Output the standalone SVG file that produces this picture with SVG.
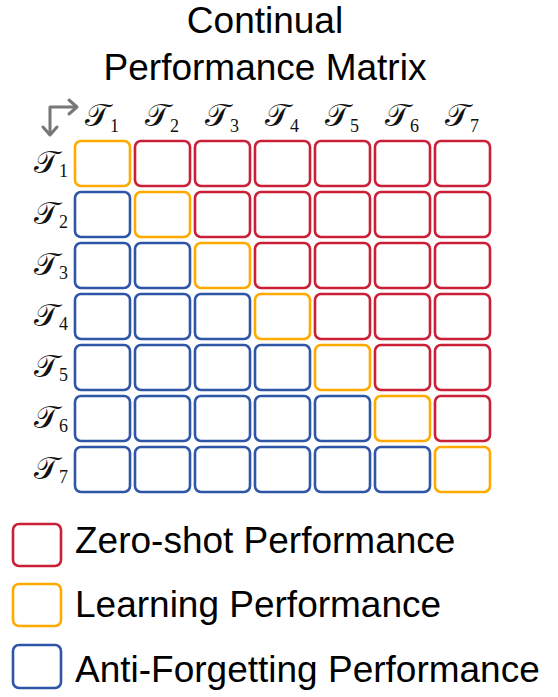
<svg xmlns="http://www.w3.org/2000/svg" width="558" height="697" viewBox="0 0 558 697">
<style>
.t{font-family:"Liberation Sans",Arial,sans-serif;font-size:37px;fill:#000}
.m{font-family:"DejaVu Serif","Liberation Serif",serif;font-size:32px;fill:#111}
.s{font-size:18px;font-family:"Liberation Serif",serif;font-style:normal}
.c{fill:#fff;stroke-width:2.6}
.r{stroke:#C91F37}.o{stroke:#FFAA00}.b{stroke:#2F56A6}
</style>
<rect width="558" height="697" fill="#fff"/>
<g id="title"><text class="t" x="265" y="33" text-anchor="middle">Continual</text><text class="t" x="265" y="80" text-anchor="middle">Performance Matrix</text></g>
<g id="corner-arrow" fill="none" stroke="#777" stroke-width="3" stroke-linecap="round" stroke-linejoin="round">
<path d="M50 134 V107 H76"/><path d="M69 100 L77 107 L69 114"/><path d="M43 127 L50 135 L57 127"/>
</g>
<g id="col-labels">
<text class="m" x="85" y="126">𝒯<tspan class="s" dy="6">1</tspan></text>
<text class="m" x="145" y="126">𝒯<tspan class="s" dy="6">2</tspan></text>
<text class="m" x="205" y="126">𝒯<tspan class="s" dy="6">3</tspan></text>
<text class="m" x="265" y="126">𝒯<tspan class="s" dy="6">4</tspan></text>
<text class="m" x="325" y="126">𝒯<tspan class="s" dy="6">5</tspan></text>
<text class="m" x="385" y="126">𝒯<tspan class="s" dy="6">6</tspan></text>
<text class="m" x="445" y="126">𝒯<tspan class="s" dy="6">7</tspan></text>
</g>
<g id="row-labels">
<text class="m" x="34" y="173">𝒯<tspan class="s" dy="4">1</tspan></text>
<text class="m" x="34" y="224">𝒯<tspan class="s" dy="4">2</tspan></text>
<text class="m" x="34" y="275">𝒯<tspan class="s" dy="4">3</tspan></text>
<text class="m" x="34" y="326">𝒯<tspan class="s" dy="4">4</tspan></text>
<text class="m" x="34" y="377">𝒯<tspan class="s" dy="4">5</tspan></text>
<text class="m" x="34" y="428">𝒯<tspan class="s" dy="4">6</tspan></text>
<text class="m" x="34" y="479">𝒯<tspan class="s" dy="4">7</tspan></text>
</g>
<g id="matrix">
<rect class="c o" x="75" y="141" width="55" height="45" rx="6"/>
<rect class="c r" x="135" y="141" width="55" height="45" rx="6"/>
<rect class="c r" x="195" y="141" width="55" height="45" rx="6"/>
<rect class="c r" x="255" y="141" width="55" height="45" rx="6"/>
<rect class="c r" x="315" y="141" width="55" height="45" rx="6"/>
<rect class="c r" x="375" y="141" width="55" height="45" rx="6"/>
<rect class="c r" x="435" y="141" width="55" height="45" rx="6"/>
<rect class="c b" x="75" y="192" width="55" height="45" rx="6"/>
<rect class="c o" x="135" y="192" width="55" height="45" rx="6"/>
<rect class="c r" x="195" y="192" width="55" height="45" rx="6"/>
<rect class="c r" x="255" y="192" width="55" height="45" rx="6"/>
<rect class="c r" x="315" y="192" width="55" height="45" rx="6"/>
<rect class="c r" x="375" y="192" width="55" height="45" rx="6"/>
<rect class="c r" x="435" y="192" width="55" height="45" rx="6"/>
<rect class="c b" x="75" y="243" width="55" height="45" rx="6"/>
<rect class="c b" x="135" y="243" width="55" height="45" rx="6"/>
<rect class="c o" x="195" y="243" width="55" height="45" rx="6"/>
<rect class="c r" x="255" y="243" width="55" height="45" rx="6"/>
<rect class="c r" x="315" y="243" width="55" height="45" rx="6"/>
<rect class="c r" x="375" y="243" width="55" height="45" rx="6"/>
<rect class="c r" x="435" y="243" width="55" height="45" rx="6"/>
<rect class="c b" x="75" y="294" width="55" height="45" rx="6"/>
<rect class="c b" x="135" y="294" width="55" height="45" rx="6"/>
<rect class="c b" x="195" y="294" width="55" height="45" rx="6"/>
<rect class="c o" x="255" y="294" width="55" height="45" rx="6"/>
<rect class="c r" x="315" y="294" width="55" height="45" rx="6"/>
<rect class="c r" x="375" y="294" width="55" height="45" rx="6"/>
<rect class="c r" x="435" y="294" width="55" height="45" rx="6"/>
<rect class="c b" x="75" y="345" width="55" height="45" rx="6"/>
<rect class="c b" x="135" y="345" width="55" height="45" rx="6"/>
<rect class="c b" x="195" y="345" width="55" height="45" rx="6"/>
<rect class="c b" x="255" y="345" width="55" height="45" rx="6"/>
<rect class="c o" x="315" y="345" width="55" height="45" rx="6"/>
<rect class="c r" x="375" y="345" width="55" height="45" rx="6"/>
<rect class="c r" x="435" y="345" width="55" height="45" rx="6"/>
<rect class="c b" x="75" y="396" width="55" height="45" rx="6"/>
<rect class="c b" x="135" y="396" width="55" height="45" rx="6"/>
<rect class="c b" x="195" y="396" width="55" height="45" rx="6"/>
<rect class="c b" x="255" y="396" width="55" height="45" rx="6"/>
<rect class="c b" x="315" y="396" width="55" height="45" rx="6"/>
<rect class="c o" x="375" y="396" width="55" height="45" rx="6"/>
<rect class="c r" x="435" y="396" width="55" height="45" rx="6"/>
<rect class="c b" x="75" y="447" width="55" height="45" rx="6"/>
<rect class="c b" x="135" y="447" width="55" height="45" rx="6"/>
<rect class="c b" x="195" y="447" width="55" height="45" rx="6"/>
<rect class="c b" x="255" y="447" width="55" height="45" rx="6"/>
<rect class="c b" x="315" y="447" width="55" height="45" rx="6"/>
<rect class="c b" x="375" y="447" width="55" height="45" rx="6"/>
<rect class="c o" x="435" y="447" width="55" height="45" rx="6"/>
</g>
<g id="legend-zero"><rect class="c r" x="13" y="524" width="48" height="42" rx="6"/><text class="t" x="75" y="553">Zero-shot Performance</text></g>
<g id="legend-learning"><rect class="c o" x="13" y="584" width="48" height="42" rx="6"/><text class="t" x="75" y="617">Learning Performance</text></g>
<g id="legend-anti"><rect class="c b" x="13" y="645" width="48" height="43" rx="6"/><text class="t" x="75" y="682">Anti-Forgetting Performance</text></g>
</svg>
